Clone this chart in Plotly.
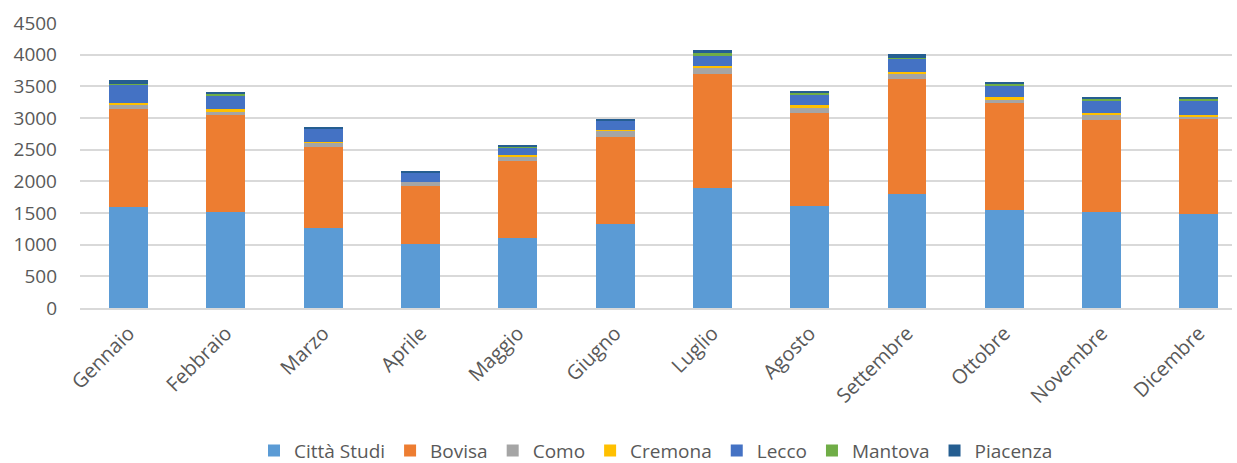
import plotly.graph_objects as go

months = ["Gennaio", "Febbraio", "Marzo", "Aprile", "Maggio", "Giugno",
          "Luglio", "Agosto", "Settembre", "Ottobre", "Novembre", "Dicembre"]

citta_studi = [1600, 1510, 1260, 1015, 1105, 1325, 1895, 1605, 1800, 1545, 1515, 1485]
bovisa      = [1535, 1530, 1280, 905, 1220, 1370, 1805, 1475, 1810, 1685, 1460, 1495]
como        = [65, 70, 75, 70, 60, 105, 90, 90, 90, 65, 65, 45]
cremona     = [35, 30, 5, 5, 30, 5, 35, 30, 30, 30, 40, 30]
lecco       = [300, 215, 210, 140, 125, 150, 155, 160, 215, 190, 185, 210]
mantova     = [5, 30, 5, 5, 5, 5, 40, 35, 5, 25, 35, 35]
piacenza    = [60, 25, 25, 30, 30, 30, 60, 25, 65, 30, 25, 25]

y_ticks = [0, 500, 1000, 1500, 2000, 2500, 3000, 3500, 4000, 4500]

series = [
    ("Città Studi", citta_studi, "#5B9BD5"),
    ("Bovisa", bovisa, "#ED7D31"),
    ("Como", como, "#A5A5A5"),
    ("Cremona", cremona, "#FFC000"),
    ("Lecco", lecco, "#4472C4"),
    ("Mantova", mantova, "#70AD47"),
    ("Piacenza", piacenza, "#255E91"),
]

font_family = "Open Sans, Noto Sans, DejaVu Sans, sans-serif"
text_color = "#595959"

fig = go.Figure()
for name, vals, color in series:
    fig.add_trace(go.Bar(
        name=name, x=months, y=vals,
        marker=dict(color=color, line=dict(width=0)),
    ))

fig.update_layout(
    width=1237, height=463,
    barmode="stack",
    bargap=0.6,
    plot_bgcolor="white",
    paper_bgcolor="white",
    margin=dict(l=80, r=5, t=23, b=155, autoexpand=False),
    font=dict(family=font_family, size=19, color=text_color),
    showlegend=True,
    legend=dict(
        orientation="h",
        x=0.5, xanchor="center",
        yref="paper", y=-0.434, yanchor="top",
        font=dict(size=19, color=text_color),
        itemwidth=30,
        traceorder="normal",
    ),
    xaxis=dict(
        range=[-0.5, 11.34],
        tickangle=-45,
        showgrid=False,
        showline=True, linecolor="#D9D9D9", linewidth=1.5,
        ticks="",
        ticklabelstandoff=4,
        automargin=False,
        tickfont=dict(size=20, color=text_color),
    ),
    yaxis=dict(
        range=[0, 4500],
        tickvals=y_ticks,
        ticktext=[str(v) for v in y_ticks],
        showgrid=True, gridcolor="#D9D9D9", gridwidth=1.5,
        zeroline=False,
        showline=False,
        ticks="",
        ticklabelstandoff=22,
        automargin=False,
        tickfont=dict(size=19, color=text_color),
    ),
)

fig.write_html("out.html")
